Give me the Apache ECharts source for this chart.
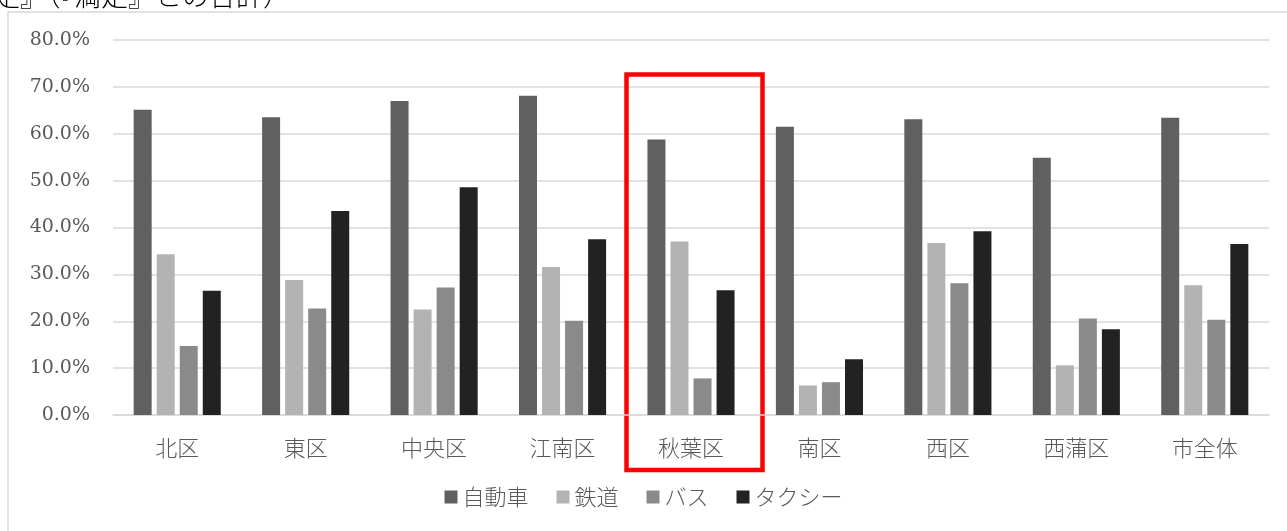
<!DOCTYPE html>
<html>
<head>
<meta charset="utf-8">
<script src="https://cdn.jsdelivr.net/npm/echarts@6/dist/echarts.min.js"></script>
<style>
  html, body { margin: 0; padding: 0; background: #fff; }
  #main { width: 1287px; height: 531px; }
</style>
</head>
<body>
<div id="main"></div>
<script>
const districts = ['北区', '東区', '中央区', '江南区', '秋葉区', '南区', '西区', '西蒲区', '市全体'];
const car = [65.1, 63.5, 67.0, 68.1, 58.8, 61.5, 63.1, 54.9, 63.4];
const rail = [34.3, 28.8, 22.5, 31.6, 37.0, 6.3, 36.7, 10.6, 27.7];
const bus = [14.7, 22.7, 27.2, 20.1, 7.8, 7.0, 28.1, 20.6, 20.3];
const taxi = [26.5, 43.5, 48.6, 37.5, 26.6, 11.9, 39.2, 18.3, 36.5];
const seriesNames = ['自動車', '鉄道', 'バス', 'タクシー'];
const colors = ['#606060', '#b3b3b3', '#8a8a8a', '#222222'];
const highlightIndex = 4;

const cjk = '"Noto Sans CJK JP", sans-serif';
const serif = '"DejaVu Serif", serif';

const chart = echarts.init(document.getElementById('main'));

const values = [car, rail, bus, taxi];
const seriesList = seriesNames.map(function (name, i) {
  return {
    name: name,
    type: 'bar',
    data: values[i],
    barWidth: 18,
    barGap: '28%',
    itemStyle: { color: colors[i] }
  };
});

chart.setOption({
  animation: false,
  color: colors,
  grid: { left: 113, right: 18, top: 40, bottom: 116 },
  legend: {
    bottom: 18,
    left: 'center',
    itemWidth: 13,
    itemHeight: 13,
    itemGap: 28,
    icon: 'rect',
    textStyle: { fontFamily: cjk, fontSize: 22, color: '#595959', fontWeight: 300 },
    data: seriesNames
  },
  xAxis: {
    type: 'category',
    data: districts,
    axisTick: { show: false },
    axisLine: { lineStyle: { color: '#d9d9d9', width: 1.5 } },
    axisLabel: { margin: 22, fontFamily: cjk, fontSize: 22, color: '#595959', fontWeight: 300 }
  },
  yAxis: {
    type: 'value',
    min: 0,
    max: 80,
    interval: 10,
    axisLine: { show: false },
    axisTick: { show: false },
    splitLine: { lineStyle: { color: '#d9d9d9', width: 1.5 } },
    axisLabel: {
      margin: 23,
      fontFamily: serif,
      fontSize: 19,
      color: '#595959',
      formatter: function (v) { return v.toFixed(1) + '%'; }
    }
  },
  series: seriesList
});

// frame, cut-off heading and highlight box around 秋葉区
const cx = chart.convertToPixel({ xAxisIndex: 0 }, districts[highlightIndex]);
chart.setOption({
  graphic: [
    {
      type: 'rect',
      z: -1,
      shape: { x: 8, y: 12, width: 1400, height: 700 },
      style: { fill: 'none', stroke: '#d9d9d9', lineWidth: 1.5 }
    },
    {
      type: 'text',
      left: -7,
      top: -18,
      style: {
        text: '足』（『満足』との合計）',
        font: '300 27px ' + cjk,
        fill: '#000'
      }
    },
    {
      type: 'rect',
      shape: { x: cx - 68 + 3.5, y: 74.5, width: 136, height: 395.5 },
      style: { fill: 'none', stroke: '#ff0000', lineWidth: 4.5 }
    }
  ]
});
</script>
</body>
</html>
